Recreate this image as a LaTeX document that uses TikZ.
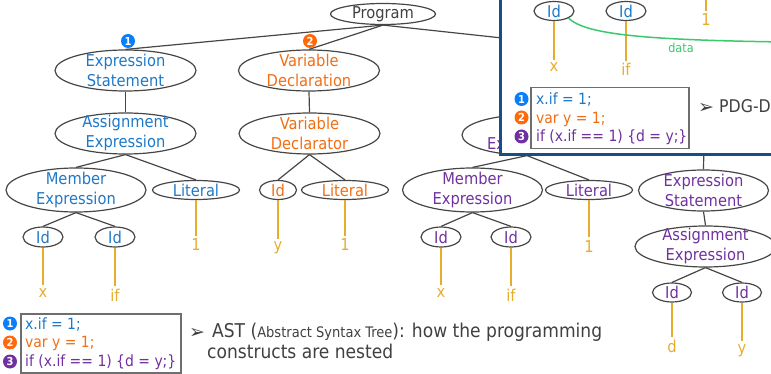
\documentclass[tikz,border=0pt]{standalone}
\usepackage{fontspec}
\setmainfont{DejaVu Sans Condensed}
\newfontfamily\arrowfont{DejaVu Sans}
\usetikzlibrary{shapes.geometric}
\definecolor{cblue}{RGB}{30,120,200}
\definecolor{corange}{RGB}{240,110,20}
\definecolor{cpurple}{RGB}{112,48,160}
\definecolor{cgold}{RGB}{232,172,45}
\definecolor{cline}{RGB}{70,70,70}
\definecolor{cgreen}{RGB}{60,200,110}
\definecolor{cframe}{RGB}{20,80,130}
\definecolor{cbox}{RGB}{110,110,110}
\definecolor{ctext}{RGB}{64,64,64}
\definecolor{dotblue}{RGB}{10,125,250}
\definecolor{dotorange}{RGB}{255,105,10}
\tikzset{
  tn/.style={ellipse, draw=cline, line width=1.2pt, inner xsep=0pt, inner ysep=-8pt, align=center, font=\fontsize{16.3}{20}\selectfont},
  big/.style={tn, minimum width=141pt, minimum height=41pt},
  mem/.style={tn, minimum width=140pt, minimum height=44pt},
  lit/.style={tn, minimum width=87pt, minimum height=19pt},
  idn/.style={tn, minimum width=40pt, minimum height=20pt},
  edge/.style={draw=cline, line width=1.2pt},
  leafline/.style={draw=cgold, line width=1.8pt},
  leaf/.style={text=cgold, font=\fontsize{16.3}{20}\selectfont, inner sep=2.5pt, anchor=base},
  num/.style={circle, inner sep=0pt, minimum size=14pt, text=white, font=\fontsize{11}{11}\selectfont\bfseries},
  codebox/.style={draw=cbox, line width=1.5pt, inner sep=0pt, anchor=north west},
  code/.style={font=\fontsize{15.5}{18}\selectfont, anchor=base west, inner sep=0pt},
  note/.style={text=ctext, anchor=base west, inner sep=0pt, font=\fontsize{19}{22}\selectfont},
  arrowtip/.style={text=ctext, anchor=base west, inner sep=0pt, font=\arrowfont\fontsize{19}{19}\selectfont},
}
\begin{document}
\begin{tikzpicture}[x=1pt,y=-1pt]
\useasboundingbox (0,0) rectangle (771,374);
\clip (0,0) rectangle (771,374);

% ---------- main AST ----------
\node[tn, minimum width=105pt, minimum height=21pt, text=ctext] (prog) at (383,14) {Program};

% statement 1 (blue)
\node[big, text=cblue] (es1) at (125.5,70.5) {Expression\\Statement};
\node[big, text=cblue] (ae1) at (125.5,133.5) {Assignment\\Expression};
\node[mem, text=cblue] (me1) at (76,190) {Member\\Expression};
\node[lit, text=cblue] (lit1) at (196,190) {Literal};
\node[idn, text=cblue] (id1a) at (43,237) {Id};
\node[idn, text=cblue] (id1b) at (115,237) {Id};
\node[leaf] (lx1) at (43,297) {x};
\node[leaf] (lif1) at (115,301) {if};
\node[leaf] (lone1) at (196,251) {1};

% statement 2 (orange)
\node[big, text=corange] (vd) at (309,70.5) {Variable\\Declaration};
\node[big, text=corange] (vdr) at (309.5,133.5) {Variable\\Declarator};
\node[tn, minimum width=37pt, minimum height=19pt, text=corange] (id2) at (278,190) {Id};
\node[lit, text=corange] (lit2) at (345,190) {Literal};
\node[leaf] (ly2) at (278,251) {y};
\node[leaf] (lone2) at (345,251) {1};

% statement 3 (purple)
\coordinate (ifTop) at (613,50);
\coordinate (ifBot) at (704,140);
\node[tn, minimum width=130pt, minimum height=40pt] (bexp) at (527,135) {};
\node[anchor=base west, inner sep=0pt, text=cpurple, font=\fontsize{16.3}{20}\selectfont] (bexpTxt) at (487,150) {Ex};
\node[mem, text=cpurple] (me3) at (472.5,190) {Member\\Expression};
\node[lit, text=cpurple] (lit3) at (589,190) {Literal};
\node[idn, text=cpurple] (id3a) at (441,237) {Id};
\node[idn, text=cpurple] (id3b) at (511,237) {Id};
\node[leaf] (lx3) at (441,297) {x};
\node[leaf] (lif3) at (511,301) {if};
\node[leaf] (lone3) at (589,252) {1};
\node[tn, minimum width=130pt, minimum height=41pt, text=cpurple] (es3) at (703.5,190.5) {Expression\\Statement};
\node[big, text=cpurple] (ae3) at (705.5,246.5) {Assignment\\Expression};
\node[tn, minimum width=39pt, minimum height=19pt, text=cpurple] (id3c) at (672,292.5) {Id};
\node[tn, minimum width=39pt, minimum height=19pt, text=cpurple] (id3d) at (742,292.5) {Id};
\node[leaf] (ld3) at (672,352) {d};
\node[leaf] (ly3) at (742,353) {y};

% edges
\draw[edge] (prog.south) -- (es1.north);
\draw[edge] (prog.south) -- (vd.north);
\draw[edge] (prog.south) -- (ifTop);
\draw[edge] (es1.south) -- (ae1.north);
\draw[edge] (ae1.south) -- (me1.north);
\draw[edge] (ae1.south) -- (lit1.north);
\draw[edge] (me1.south) -- (id1a.north);
\draw[edge] (me1.south) -- (id1b.north);
\draw[edge] (vd.south) -- (vdr.north);
\draw[edge] (vdr.south) -- (id2.north);
\draw[edge] (vdr.south) -- (lit2.north);
\draw[edge] (ifBot) -- (es3.north);
\draw[edge] (bexp.south) -- (me3.north);
\draw[edge] (bexp.south) -- (lit3.north);
\draw[edge] (me3.south) -- (id3a.north);
\draw[edge] (me3.south) -- (id3b.north);
\draw[edge] (es3.south) -- (ae3.north);
\draw[edge] (ae3.south) -- (id3c.north);
\draw[edge] (ae3.south) -- (id3d.north);

% leaf lines
\draw[leafline] (id1a.south) -- (lx1.north);
\draw[leafline] (id1b.south) -- (lif1.north);
\draw[leafline] (lit1.south) -- (lone1.north);
\draw[leafline] (id2.south) -- (ly2.north);
\draw[leafline] (lit2.south) -- (lone2.north);
\draw[leafline] (id3a.south) -- (lx3.north);
\draw[leafline] (id3b.south) -- (lif3.north);
\draw[leafline] (lit3.south) -- (lone3.north);
\draw[leafline] (id3c.south) -- (ld3.north);
\draw[leafline] (id3d.south) -- (ly3.north);

% statement markers
\node[num, fill=dotblue] (n1) at (128,41) {1};
\node[num, fill=dotorange] (n2) at (310,41) {2};

% bottom code box and note
\node[codebox, minimum width=160pt, minimum height=59pt] (mbox) at (20,313) {};
\node[num, fill=dotblue] (mb1) at (10,323.5) {1};
\node[num, fill=dotorange] (mb2) at (10,342.5) {2};
\node[num, fill=cpurple] (mb3) at (10,361.5) {3};
\node[code, text=cblue] (mc1) at (25,329) {x.if = 1;};
\node[code, text=corange] (mc2) at (25,347.5) {var y = 1;};
\node[code, text=cpurple] (mc3) at (25,366) {if (x.if == 1) \{d = y;\}};
\node[arrowtip] (astArrow) at (189,338) {➢};
\node[note] (ast1) at (212,337) {AST ({\fontsize{14.5}{14.5}\selectfont Abstract Syntax Tree}): how the programming};
\node[note] (ast2) at (207,358) {constructs are nested};

% ---------- PDG inset ----------
\node[draw=cframe, line width=3pt, fill=white, anchor=north west, minimum width=300pt, minimum height=170pt, inner sep=0pt] (inset) at (498.5,-17) {};
\node[idn, minimum height=19pt, text=cblue] (pidx) at (554,11) {Id};
\node[idn, minimum height=19pt, text=cblue] (pidif) at (626,11) {Id};
\node[leaf] (plx) at (554,72) {x};
\node[leaf] (plif) at (626,76) {if};
\coordinate (plitTop) at (706,-5);
\node[leaf] (plone) at (706,26) {1};
\draw[leafline] (pidx.south) -- (plx.north);
\draw[leafline] (pidif.south) -- (plif.north);
\draw[leafline] (plitTop) -- (plone.north);
\coordinate (dataEnd) at (785,42);
\draw[draw=cgreen, line width=1.5pt] (pidx.south east) .. controls (585,34) and (640,40) .. (dataEnd);
\node[text=cgreen, font=\fontsize{12.5}{12.5}\selectfont, inner sep=0pt, anchor=base] (dataLbl) at (681,53) {data};

\node[codebox, minimum width=158pt, minimum height=61pt] (pbox) at (530,87) {};
\node[num, fill=dotblue] (pb1) at (521.5,99) {1};
\node[num, fill=dotorange] (pb2) at (521.5,117.5) {2};
\node[num, fill=cpurple] (pb3) at (521.5,136.5) {3};
\node[code, text=cblue] (pc1) at (536,105) {x.if = 1;};
\node[code, text=corange] (pc2) at (536,123.5) {var y = 1;};
\node[code, text=cpurple] (pc3) at (536,142) {if (x.if == 1) \{d = y;\}};
\node[arrowtip] (pdgArrow) at (698,114) {➢};
\node[note, font=\fontsize{17.5}{22}\selectfont] (pdg) at (719,113) {PDG-D};
\end{tikzpicture}
\end{document}
